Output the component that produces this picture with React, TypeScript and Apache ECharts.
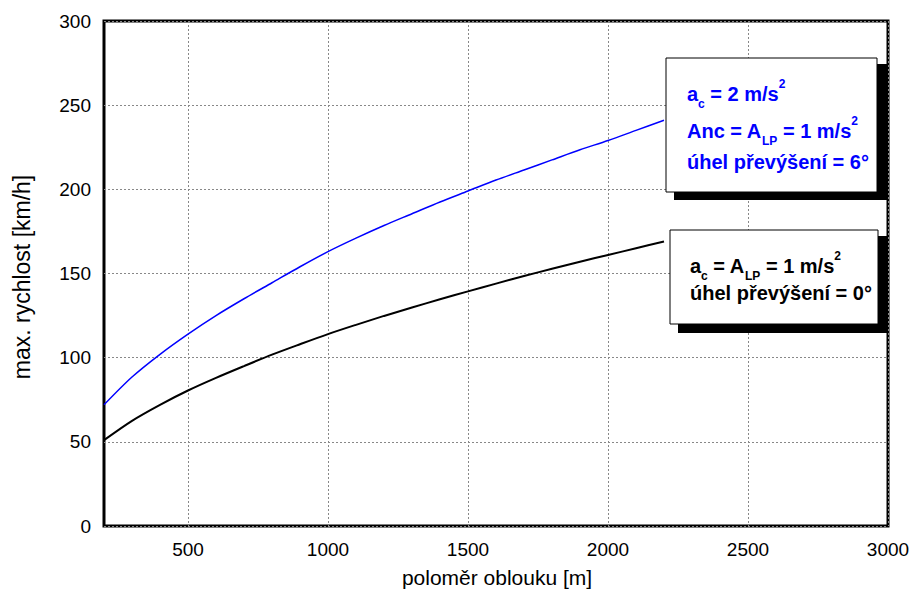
import React, { useEffect, useRef } from "react";
import * as echarts from "echarts";

const radii = [200, 300, 400, 500, 600, 700, 800, 900, 1000, 1100, 1200, 1300, 1400, 1500, 1600, 1700, 1800, 1900, 2000, 2100, 2200];
const blackSpeeds = [51, 62.5, 72, 80.5, 88, 95, 101.8, 108, 114, 119.5, 124.8, 129.8, 134.7, 139.4, 144, 148.5, 152.8, 157, 161, 165, 169];
const blueSpeeds = [72, 88.5, 102, 114, 125, 135, 144.5, 154, 163, 171, 178.5, 185.5, 192.5, 199, 205.5, 211.5, 217.5, 223.5, 229, 235, 241];
const xTicks = [500, 1000, 1500, 2000, 2500, 3000];
const yTicks = [0, 50, 100, 150, 200, 250, 300];

const FONT = "'Liberation Sans', Arial, sans-serif";

function richStyles(color: string) {
  return {
    m: { fontSize: 20, fontWeight: "bold", fontFamily: FONT, fill: color, lineHeight: 32 },
    s: { fontSize: 12, fontWeight: "bold", fontFamily: FONT, fill: color, lineHeight: 17, verticalAlign: "bottom" },
    p: { fontSize: 12, fontWeight: "bold", fontFamily: FONT, fill: color, lineHeight: 13, verticalAlign: "top" },
  };
}

function legendText(x: number, y: number, text: string, color: string) {
  return {
    type: "text",
    x,
    y,
    z: 20,
    style: {
      text,
      fill: color,
      fontFamily: FONT,
      fontSize: 20,
      fontWeight: "bold",
      verticalAlign: "middle",
      align: "left",
      rich: richStyles(color),
    },
  };
}

function plainLegendText(x: number, y: number, text: string, color: string) {
  return {
    type: "text",
    x,
    y,
    z: 20,
    style: {
      text,
      fill: color,
      fontFamily: FONT,
      fontSize: 20,
      fontWeight: "bold",
      verticalAlign: "middle",
      align: "left",
      lineHeight: 20,
    },
  };
}

export default function App() {
  const ref = useRef<HTMLDivElement>(null);
  useEffect(() => {
    if (!ref.current) return;
    const chart = echarts.init(ref.current, null, { renderer: "svg" });
    const blue = "#0000ff";
    chart.setOption({
      animation: false,
      backgroundColor: "#ffffff",
      grid: {
        left: 104,
        top: 21,
        right: 25,
        bottom: 63,
        show: true,
        borderColor: "#000",
        borderWidth: 3,
        containLabel: false,
        outerBoundsMode: "none",
      },
      xAxis: {
        type: "value",
        min: 200,
        max: 3000,
        axisLine: { show: false },
        axisTick: { show: false, customValues: xTicks },
        axisLabel: {
          customValues: xTicks,
          formatter: (v: number) => String(v),
          fontSize: 19,
          fontFamily: FONT,
          color: "#000",
          margin: 14,
        },
        splitLine: { show: true, lineStyle: { color: "#888", type: [2, 2], width: 1 } },
      },
      yAxis: {
        type: "value",
        min: yTicks[0],
        max: yTicks[yTicks.length - 1],
        interval: 50,
        axisLine: { show: false },
        axisTick: { show: false },
        axisLabel: { fontSize: 19, fontFamily: FONT, color: "#000", margin: 13 },
        splitLine: { show: true, lineStyle: { color: "#888", type: [2, 2], width: 1 } },
      },
      series: [
        {
          type: "line",
          data: radii.map((r, i) => [r, blueSpeeds[i]]),
          smooth: 0.3,
          showSymbol: false,
          lineStyle: { color: blue, width: 1.5 },
          z: 3,
        },
        {
          type: "line",
          data: radii.map((r, i) => [r, blackSpeeds[i]]),
          smooth: 0.3,
          showSymbol: false,
          lineStyle: { color: "#000", width: 2 },
          z: 3,
        },
      ],
      graphic: [
        { type: "rect", z: 10, shape: { x: 674, y: 64, width: 213, height: 136 }, style: { fill: "#000" } },
        { type: "rect", z: 11, shape: { x: 666, y: 58, width: 211, height: 134 }, style: { fill: "#fff", stroke: "#000", lineWidth: 1 } },
        legendText(687, 94, "{m|a}{s|c}{m| = 2 m/s}{p|2}", blue),
        legendText(687, 131, "{m|Anc = A}{s|LP}{m| = 1 m/s}{p|2}", blue),
        plainLegendText(687, 162, "úhel převýšení = 6°", blue),
        { type: "rect", z: 10, shape: { x: 678, y: 236, width: 209, height: 97 }, style: { fill: "#000" } },
        { type: "rect", z: 11, shape: { x: 670, y: 230, width: 208, height: 94 }, style: { fill: "#fff", stroke: "#000", lineWidth: 1 } },
        legendText(690, 266, "{m|a}{s|c}{m| = A}{s|LP}{m| = 1 m/s}{p|2}", "#000"),
        plainLegendText(690, 293, "úhel převýšení = 0°", "#000"),
        {
          type: "text",
          x: 22,
          y: 277,
          rotation: Math.PI / 2,
          style: { text: "max. rychlost [km/h]", fontSize: 23, fontFamily: FONT, fill: "#000", align: "center", verticalAlign: "middle" },
        },
        {
          type: "text",
          x: 497,
          y: 577,
          style: { text: "poloměr oblouku [m]", fontSize: 21, fontFamily: FONT, fill: "#000", align: "center", verticalAlign: "middle" },
        },
      ],
    });
    return () => chart.dispose();
  }, []);
  return <div ref={ref} style={{ position: "fixed", left: 0, top: 0, width: 913, height: 589 }} />;
}
